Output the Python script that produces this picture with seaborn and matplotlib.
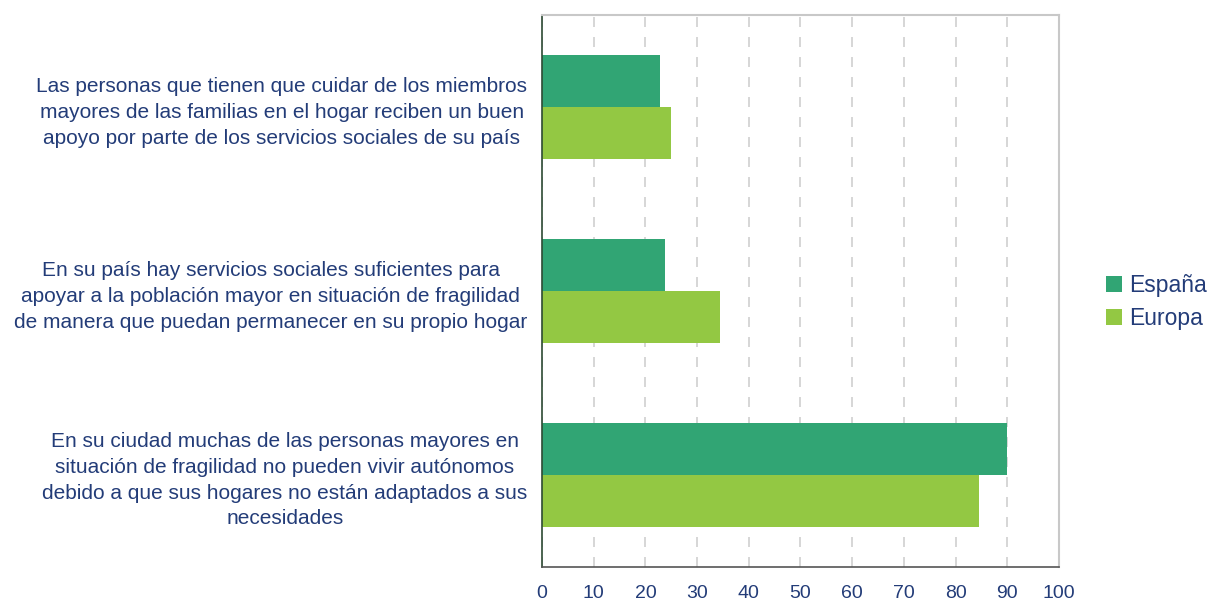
import pandas as pd
import matplotlib.pyplot as plt
import seaborn as sns

# Datos
categorias = [
    "Las personas que tienen que cuidar de los miembros\nmayores de las familias en el hogar reciben un buen\napoyo por parte de los servicios sociales de su país",
    "En su país hay servicios sociales suficientes para\napoyar a la población mayor en situación de fragilidad\nde manera que puedan permanecer en su propio hogar",
    "En su ciudad muchas de las personas mayores en\nsituación de fragilidad no pueden vivir autónomos\ndebido a que sus hogares no están adaptados a sus\nnecesidades",
]
espana = [22.8, 23.8, 90.0]
europa = [25.0, 34.4, 84.5]
series = ["España", "Europa"]
xticks = list(range(0, 101, 10))

COLOR_ES = "#31A574"
COLOR_EU = "#93C843"
TEXT = "#233C78"

df = pd.DataFrame({
    "categoria": categorias * 2,
    "valor": espana + europa,
    "serie": [series[0]] * 3 + [series[1]] * 3,
})

sns.set_theme(style="white")
plt.rcParams['font.family'] = ['Liberation Sans', 'DejaVu Sans']

fig = plt.figure(figsize=(12.16, 6.04), dpi=100)
ax = fig.add_axes([0.4457, 0.0613, 0.4252, 0.9139])

sns.barplot(data=df, y="categoria", x="valor", hue="serie", orient="h",
            palette=[COLOR_ES, COLOR_EU], width=0.57, gap=0, saturation=1,
            edgecolor="none", linewidth=0, ax=ax, legend=True)

ax.set_xlim(0, 100)
ax.set_ylim(2.5, -0.5)
ax.set_xticks(xticks)
ax.set_xticklabels([str(t) for t in xticks], color=TEXT, fontsize=14)
ax.set_xlabel("")
ax.set_ylabel("")

# etiquetas de categoría: bloque alineado a la derecha, líneas centradas
ax.set_yticks(range(3))
ax.set_yticklabels(categorias, color=TEXT, fontsize=15, ha="right",
                   multialignment="center", linespacing=1.45)
ax.tick_params(axis="y", which="major", length=0, pad=10.5)
ax.set_yticks([-0.5, 0.5, 1.5, 2.5], minor=True)
ax.tick_params(axis="y", which="minor", length=5, width=1, color="#2E4A34",
               direction="out")
ax.tick_params(axis="x", length=5, width=1, color="#555555", direction="out", pad=8)

ax.grid(axis="x", linestyle=(0, (6, 6)), color="#D0D0D0", linewidth=1.2)
ax.set_axisbelow(True)

for side in ["top", "right"]:
    ax.spines[side].set_color("#C8C8C8")
    ax.spines[side].set_linewidth(1.5)
ax.spines["left"].set_color("#2E4A34")
ax.spines["left"].set_linewidth(1.2)
ax.spines["bottom"].set_color("#555555")
ax.spines["bottom"].set_linewidth(1.2)

leg = ax.legend(loc="center left", bbox_to_anchor=(1106 / 1216, 1 - 302 / 604),
                bbox_transform=fig.transFigure, frameon=False,
                fontsize=16.5, handlelength=0.7, handleheight=0.7,
                handletextpad=0.3, labelspacing=0.45, borderpad=0, borderaxespad=0)
for t in leg.get_texts():
    t.set_color(TEXT)

fig.savefig("out.png", dpi=100)
